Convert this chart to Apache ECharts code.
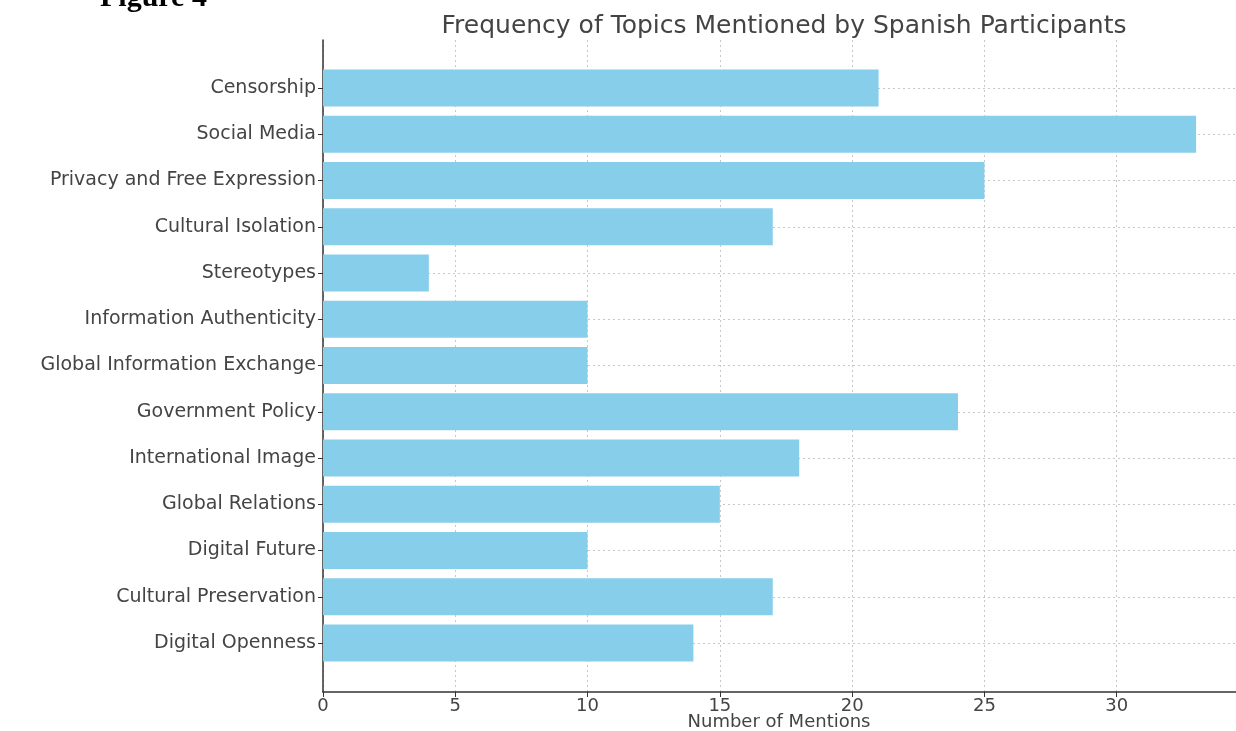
<!DOCTYPE html>
<html><head><meta charset="utf-8">
<script src="https://cdn.jsdelivr.net/npm/echarts@6/dist/echarts.min.js"></script>
<style>html,body{margin:0;padding:0;background:#fff}#c{width:1236px;height:731px}</style>
</head><body><div id="c"></div>
<script>
const categories = ["Censorship","Social Media","Privacy and Free Expression","Cultural Isolation","Stereotypes","Information Authenticity","Global Information Exchange","Government Policy","International Image","Global Relations","Digital Future","Cultural Preservation","Digital Openness"];
const mentions = [21,33,25,17,4,10,10,24,18,15,10,17,14];
const xMax = 35;

const chart = echarts.init(document.getElementById('c'), null, {renderer:'canvas'});
const font = '"DejaVu Sans"';
const txt = '#444';
chart.setOption({
  animation:false,
  title:[
    {text:'Frequency of Topics Mentioned by Spanish Participants', left:779, textAlign:'center', top:9,
     textStyle:{fontFamily:font,fontSize:25,fontWeight:'normal',color:txt}},
    {text:'Figure 4', left:95, top:-22, textStyle:{fontFamily:'"Liberation Serif"',fontSize:30,fontWeight:'bold',color:'#000'}}
  ],
  grid:[
    {left:323,right:-13,top:88,bottom:88,outerBoundsMode:'none',containLabel:false},
    {left:323,right:-13,top:40,bottom:39,outerBoundsMode:'none',containLabel:false}
  ],
  xAxis:[
    {gridIndex:0,type:'value',min:0,max:xMax,show:false},
    {gridIndex:1,type:'value',min:0,max:xMax,interval:5,
     axisLine:{show:true,lineStyle:{color:'#333',width:1.5}},
     axisTick:{show:true,length:5,lineStyle:{color:'#333'}},
     axisLabel:{fontFamily:font,fontSize:18,color:txt,margin:5,
       formatter:v=>v<xMax?String(v):''},
     splitLine:{show:true,lineStyle:{type:[2,3],color:'#c8c8c8',width:1}},
     name:'Number of Mentions',nameLocation:'middle',nameGap:21,nameMoveOverlap:false,
     nameTextStyle:{fontFamily:font,fontSize:18,color:txt,padding:[0,14,0,0]}}
  ],
  yAxis:[
    {gridIndex:0,type:'category',data:categories,inverse:true,boundaryGap:false,
     axisLine:{show:false},
     axisTick:{show:true,length:5,lineStyle:{color:'#333'}},
     axisLabel:{fontFamily:font,fontSize:19,color:txt,margin:7},
     splitLine:{show:true,lineStyle:{type:[2,3],color:'#c8c8c8',width:1}}},
    {gridIndex:1,type:'value',min:0,max:1,
     axisLine:{show:true,lineStyle:{color:'#333',width:1.5}},
     axisTick:{show:false},axisLabel:{show:false},splitLine:{show:false}}
  ],
  series:[
    {type:'bar',xAxisIndex:0,yAxisIndex:0,data:mentions,barWidth:37,clip:false,
     itemStyle:{color:'#87CEEB'},z:3}
  ]
});
</script></body></html>
